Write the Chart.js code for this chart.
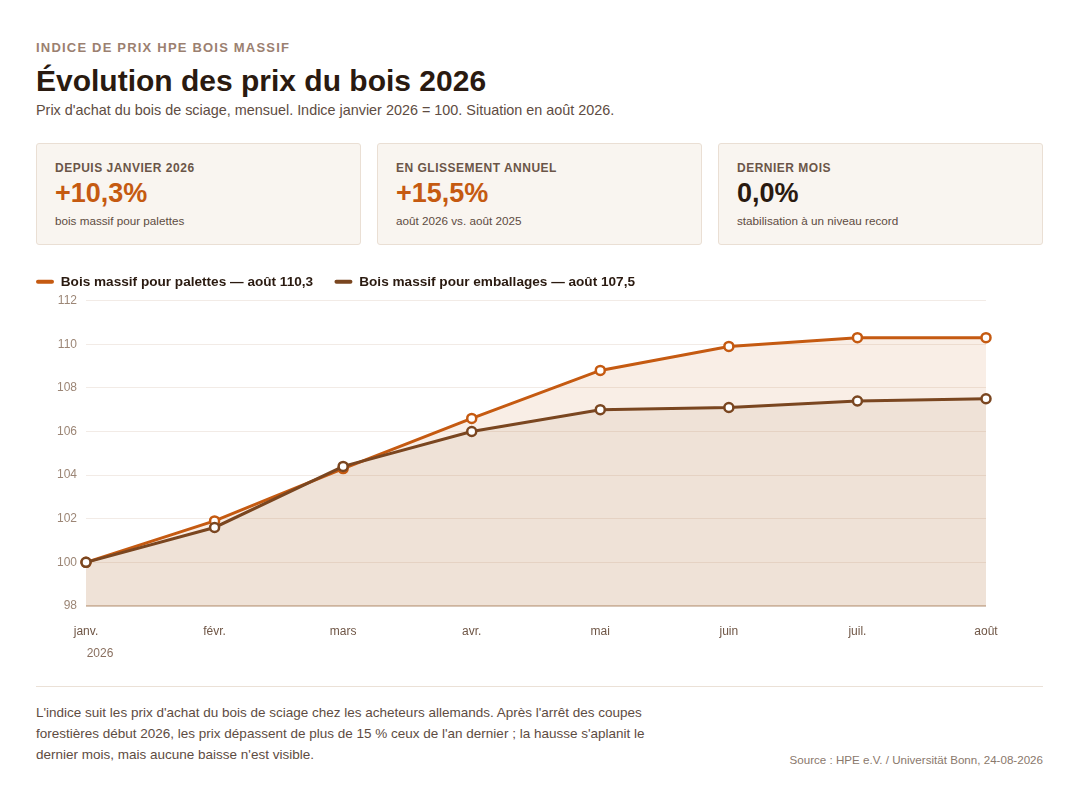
<!DOCTYPE html>
<html lang="fr">
<head>
<meta charset="utf-8">
<script src="https://cdn.jsdelivr.net/npm/chart.js@4.4.1/dist/chart.umd.min.js"></script>
<style>
  html, body { margin: 0; padding: 0; background: #ffffff; }
  body { width: 1073px; height: 789px; font-family: "Liberation Sans", Arial, Helvetica, sans-serif; color: #2a1a10; position: relative; overflow: hidden; }
  .wrap { position: absolute; left: 36px; top: 0; width: 1007px; }
  .kicker { position: absolute; top: 40px; left: 0; font-size: 13px; line-height: 16px; font-weight: bold; letter-spacing: 1.2px; color: #9b8070; white-space: nowrap; }
  .title { position: absolute; top: 63px; left: 0; font-size: 30px; line-height: 36px; font-weight: bold; color: #2a1a10; white-space: nowrap; margin: 0; }
  .subtitle { position: absolute; top: 101px; left: 0; font-size: 14.4px; line-height: 18px; color: #5e4c42; white-space: nowrap; }
  .cards { position: absolute; top: 143px; left: 0; width: 1007px; height: 102px; }
  .card { position: absolute; top: 0; width: 325px; height: 102px; box-sizing: border-box; border: 1px solid #eadfd4; border-radius: 3px; background: #f9f5f0; padding: 17px 18px; }
  .card .lab { font-size: 12px; line-height: 14px; font-weight: bold; letter-spacing: 0.5px; color: #6b5548; white-space: nowrap; }
  .card .val { font-size: 27px; line-height: 30px; font-weight: bold; margin-top: 3px; white-space: nowrap; }
  .card .sub { font-size: 11.7px; line-height: 16px; margin-top: 5px; color: #5e4c42; white-space: nowrap; }
  .chartbox { position: absolute; top: 265px; left: -10px; width: 1017px; height: 401px; }
  .footer { position: absolute; top: 686px; left: 0; width: 1007px; border-top: 1px solid #ebe1d7; }
  .note { position: absolute; top: 15px; left: 0; width: 640px; font-size: 13.5px; line-height: 21px; color: #5e4c42; }
  .source { position: absolute; top: 65px; right: 0; font-size: 11.6px; line-height: 16px; color: #8a786c; white-space: nowrap; }
</style>
</head>
<body>
<div class="wrap">
  <div class="kicker">INDICE DE PRIX HPE BOIS MASSIF</div>
  <h1 class="title">Évolution des prix du bois 2026</h1>
  <div class="subtitle">Prix d'achat du bois de sciage, mensuel. Indice janvier 2026 = 100. Situation en août 2026.</div>
  <div class="cards">
    <div class="card" style="left:0">
      <div class="lab">DEPUIS JANVIER 2026</div>
      <div class="val" style="color:#c55a11">+10,3%</div>
      <div class="sub">bois massif pour palettes</div>
    </div>
    <div class="card" style="left:341px">
      <div class="lab">EN GLISSEMENT ANNUEL</div>
      <div class="val" style="color:#c55a11">+15,5%</div>
      <div class="sub">août 2026 vs. août 2025</div>
    </div>
    <div class="card" style="left:682px">
      <div class="lab">DERNIER MOIS</div>
      <div class="val" style="color:#2a1a10">0,0%</div>
      <div class="sub">stabilisation à un niveau record</div>
    </div>
  </div>
  <div class="chartbox"><canvas id="c"></canvas></div>
  <div class="footer">
    <div class="note">L'indice suit les prix d'achat du bois de sciage chez les acheteurs allemands. Après l'arrêt des coupes forestières début 2026, les prix dépassent de plus de 15 % ceux de l'an dernier ; la hausse s'aplanit le dernier mois, mais aucune baisse n'est visible.</div>
    <div class="source">Source : HPE e.V. / Universität Bonn, 24-08-2026</div>
  </div>
</div>
<script>
const months = ["janv.", "févr.", "mars", "avr.", "mai", "juin", "juil.", "août"];
const yearLabel = "2026";
const palettes = [100, 101.9, 104.3, 106.6, 108.8, 109.9, 110.3, 110.3];
const emballages = [100, 101.6, 104.4, 106.0, 107.0, 107.1, 107.4, 107.5];
const seriesNames = ["Bois massif pour palettes", "Bois massif pour emballages"];
const yTicks = [98, 100, 102, 104, 106, 108, 110, 112];

const ORANGE = "#c55a11";
const BROWN = "#7a4620";
const FONT = "'Liberation Sans', Arial, sans-serif";

function fmt(v) { return v.toFixed(1).replace(".", ","); }

const yearPlugin = {
  id: "yearLabel",
  afterDraw(chart) {
    const x = chart.scales.x;
    const ctx = chart.ctx;
    ctx.save();
    ctx.font = "12px " + FONT;
    ctx.fillStyle = "#8a7060";
    ctx.textAlign = "center";
    ctx.textBaseline = "middle";
    ctx.fillText(yearLabel, x.getPixelForValue(0) + 14, x.top + 48);
    ctx.restore();
  }
};

const chart = new Chart(document.getElementById("c"), {
  type: "line",
  data: {
    labels: months,
    datasets: [
      {
        label: seriesNames[0] + " — août " + fmt(palettes[palettes.length - 1]),
        data: palettes,
        borderColor: ORANGE,
        backgroundColor: "rgba(200,96,26,0.11)",
        fill: "origin",
        borderWidth: 3,
        pointRadius: 4.5,
        pointBorderWidth: 2.5,
        pointBackgroundColor: "#ffffff",
        pointBorderColor: ORANGE,
        tension: 0,
        order: 1
      },
      {
        label: seriesNames[1] + " — août " + fmt(emballages[emballages.length - 1]),
        data: emballages,
        borderColor: BROWN,
        backgroundColor: "rgba(120,70,30,0.07)",
        fill: "origin",
        borderWidth: 3,
        pointRadius: 4.5,
        pointBorderWidth: 2.5,
        pointBackgroundColor: "#ffffff",
        pointBorderColor: BROWN,
        tension: 0,
        order: 0
      }
    ]
  },
  options: {
    responsive: true,
    maintainAspectRatio: false,
    animation: false,
    layout: { padding: { left: 0, right: 57, top: 0, bottom: 0 } },
    plugins: {
      filler: { drawTime: "beforeDatasetsDraw" },
      tooltip: { enabled: false },
      legend: {
        display: true,
        position: "top",
        align: "start",
        labels: {
          boxWidth: 18,
          boxHeight: 4,
          padding: 10,
          useBorderRadius: true,
          borderRadius: 2,
          color: "#2a1a10",
          font: { family: FONT, size: 13.6, weight: "bold" },
          sort: (a, b) => a.datasetIndex - b.datasetIndex,
          generateLabels(chart) {
            return chart.data.datasets.map((ds, i) => ({
              text: ds.label + "   ",
              fillStyle: ds.borderColor,
              strokeStyle: ds.borderColor,
              lineWidth: 0,
              borderRadius: 2,
              datasetIndex: i,
              hidden: false,
              fontColor: "#2a1a10"
            }));
          }
        }
      }
    },
    scales: {
      x: {
        type: "category",
        offset: false,
        grid: { display: false, drawTicks: false },
        border: { display: false },
        ticks: {
          padding: 18,
          color: "#6f5646",
          maxRotation: 0,
          autoSkip: false,
          font: { family: FONT, size: 12 }
        },
        afterFit(scale) { scale.height = 60; }
      },
      y: {
        min: 98,
        max: 112,
        afterBuildTicks(scale) { scale.ticks = yTicks.map(v => ({ value: v })); },
        grid: {
          drawTicks: false,
          color: (c) => c.tick && c.tick.value === 98 ? "#d8c7b8" : "rgba(160,115,80,0.14)",
          lineWidth: (c) => c.tick && c.tick.value === 98 ? 2 : 1
        },
        border: { display: false },
        ticks: {
          padding: 9,
          color: "#9c8676",
          font: { family: FONT, size: 12 }
        },
        afterFit(scale) { scale.width = 60; }
      }
    }
  },
  plugins: [yearPlugin]
});

// add a small gap between the legend and the plot area
if (chart.legend) {
  const lg = chart.legend;
  const origFit = lg.fit.bind(lg);
  lg.fit = function () { origFit(); this.height += 2; };
  chart.update();
}
</script>
</body>
</html>
